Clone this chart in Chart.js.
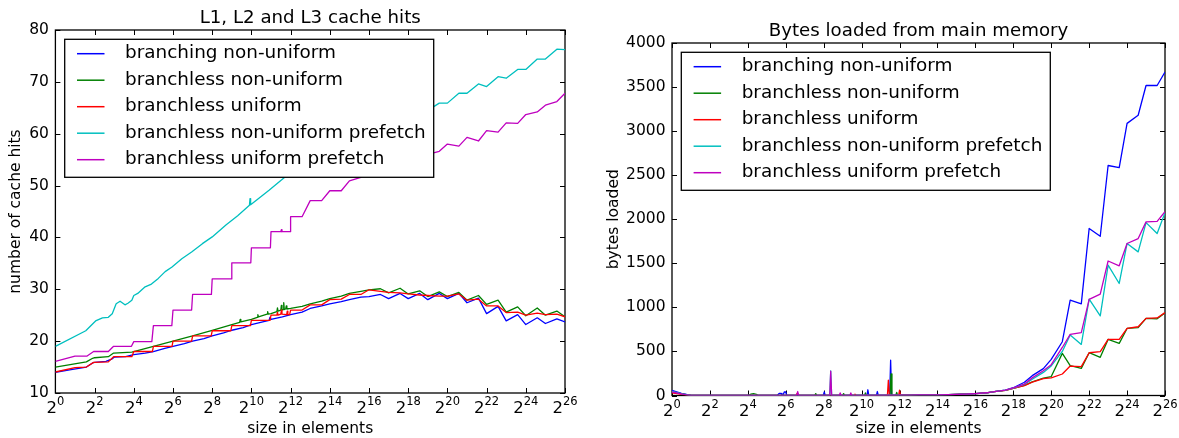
<!DOCTYPE html>
<html>
<head>
<meta charset="utf-8">
<script src="https://cdn.jsdelivr.net/npm/chart.js@4.4.1/dist/chart.umd.min.js"></script>
<style>
  html, body { margin: 0; padding: 0; background: #fff; }
  #wrap { position: relative; width: 1179px; height: 438px; overflow: hidden; }
  canvas { position: absolute; top: 0; }
  #hits { left: 0; }
  #bytes { left: 590px; }
</style>
</head>
<body>
<div id="wrap">
  <canvas id="hits" width="590" height="438"></canvas>
  <canvas id="bytes" width="589" height="438"></canvas>
</div>
<script>
// ---- data: x is log2(size in elements), y is the measured value ----
const seriesLabels = [
  'branching non-uniform',
  'branchless non-uniform',
  'branchless uniform',
  'branchless non-uniform prefetch',
  'branchless uniform prefetch'
];

// exponents shown on the x axis (labels are 2^n)
const exponentTicks = [0, 2, 4, 6, 8, 10, 12, 14, 16, 18, 20, 22, 24, 26];

// L1, L2 and L3 cache hits
const hitsBranchingNonUniform = [
  [0,14.0],[0.8,14.5],[1.58,15.0],[1.9,15.8],[2.0,15.9],[2.58,16.1],[2.9,16.6],[3.0,16.9],[3.58,17.0],
  [4,17.4],[4.58,17.7],[5,18.0],[5.58,18.6],[6,19.0],[6.58,19.5],[7,20.0],[7.58,20.5],[8,21.0],
  [8.58,21.6],[9,22.1],[9.58,22.6],[10,23.2],[10.58,23.7],[10.9,24.0],[10.95,24.6],[11.0,24.2],
  [11.58,24.7],[12,25.1],[12.585,25.6],[13,26.3],[13.585,26.8],[14,27.2],[14.585,27.6],[15,28.0],
  [15.585,28.5],[16,28.6],[16.585,29.0],[17,28.2],[17.585,29.2],[18,28.2],[18.585,29.2],[19,28.0],
  [19.585,29.2],[20,28.2],[20.585,29.2],[21,27.4],[21.585,28.3],[22,25.3],[22.585,26.7],[23,23.9],
  [23.585,25.1],[24,23.2],[24.585,24.5],[25,23.4],[25.585,24.3],[26,23.7]
];
const hitsBranchlessNonUniform = [
  [0,15.0],[1.58,16.0],[1.9,16.7],[2.0,16.8],[2.7,17.0],[2.97,17.7],[3.9,17.9],[5,19.0],[6,20.0],
  [7,21.0],[8,22.1],[9,23.2],[9.4,23.6],[9.43,24.2],[9.46,23.7],[10,24.2],[10.3,24.6],[10.33,25.1],
  [10.36,24.7],[10.8,25.2],[10.83,25.7],[10.86,25.2],[11,25.3],[11.3,25.7],[11.33,26.4],[11.36,25.8],
  [11.5,26.0],[11.53,26.9],[11.56,26.0],[11.62,26.1],[11.65,27.4],[11.68,26.1],[11.75,26.2],
  [11.78,26.8],[11.81,26.2],[12,26.3],[12.585,26.7],[13,27.2],[13.585,27.7],[14,28.2],[14.585,28.7],
  [15,29.2],[15.585,29.6],[16,29.9],[16.585,30.1],[17,29.3],[17.585,30.2],[18,29.1],[18.585,29.7],
  [19,28.6],[19.585,29.5],[20,28.6],[20.585,29.4],[21,27.9],[21.585,28.8],[22,27.1],[22.585,27.9],
  [23,25.6],[23.585,26.6],[24,24.9],[24.585,26.4],[25,25.0],[25.585,25.8],[26,24.7]
];
const hitsBranchlessUniform = [
  [0,14.05],[1.0,14.9],[1.58,15.0],[1.95,15.9],[2.7,16.0],[2.97,17.0],[3.9,17.0],[4.0,18.0],
  [4.95,18.0],[5.0,19.0],[5.95,19.0],[6.0,20.0],[6.95,20.0],[7.0,21.0],[7.95,21.0],[8.0,22.0],
  [8.95,22.0],[9.0,23.0],[9.95,23.0],[10.0,24.0],[10.95,24.0],[11.0,25.0],[11.3,25.0],[11.33,25.6],
  [11.36,25.0],[11.5,25.2],[11.53,26.0],[11.56,25.2],[11.8,25.1],[11.83,25.8],[11.86,25.1],
  [11.95,25.1],[12.0,26.0],[12.585,26.0],[13,27.0],[13.585,27.0],[14,28.0],[14.585,28.1],[15,29.0],
  [15.585,29.0],[16,29.9],[16.585,29.6],[17,29.4],[17.585,29.3],[18,29.1],[18.585,28.9],[19,28.8],
  [19.585,28.7],[20,28.7],[20.585,29.1],[21,27.9],[21.585,28.1],[22,26.8],[22.585,26.8],[23,25.5],
  [23.585,25.6],[24,25.0],[24.585,25.4],[25,25.1],[25.585,25.2],[26,24.7]
];
const hitsBranchlessNonUniformPrefetch = [
  [0,19.0],[1.55,22.0],[2.05,23.9],[2.4,24.5],[2.7,24.6],[2.9,25.3],[3.1,27.2],[3.3,27.7],[3.55,27.0],
  [3.7,27.3],[3.9,27.9],[4.0,28.8],[4.2,29.2],[4.55,30.4],[4.9,31.0],[5.25,32.1],[5.6,33.4],
  [5.95,34.3],[6.45,35.9],[6.95,37.2],[7.5,38.8],[8.0,40.1],[8.7,42.4],[9.3,44.2],[9.9,46.2],
  [9.93,47.5],[9.96,46.3],[10.4,47.6],[10.9,49.1],[11.5,51.0],[12,52.5],[12.585,53.5],[13,54.5],
  [13.585,55.5],[14,56.5],[14.585,57.5],[15,58.5],[15.585,59.3],[16,60.2],[16.585,61.0],[17,61.8],
  [17.585,62.4],[18,63.0],[18.585,63.8],[19,64.5],[19.585,65.9],[20,65.9],[20.585,67.8],[21,67.8],
  [21.585,69.6],[22,69.1],[22.585,71.0],[23,70.7],[23.585,72.4],[24,72.4],[24.585,74.4],[25,74.4],
  [25.585,76.3],[26,76.2]
];
const hitsBranchlessUniformPrefetch = [
  [0,16.1],[1.0,17.1],[1.6,17.1],[1.95,18.0],[2.7,18.0],[2.97,19.0],[3.88,19.0],[4.0,19.9],
  [4.92,19.9],[5.0,23.0],[5.94,23.0],[6.0,26.0],[6.95,26.0],[7.0,29.0],[7.96,29.0],[8.0,32.0],
  [8.97,32.0],[9.0,35.1],[9.97,35.1],[10.0,38.0],[10.97,38.0],[11.0,41.1],[11.5,41.1],[11.53,41.5],
  [11.56,41.1],[11.97,41.1],[12.0,44.0],[12.585,44.0],[13,47.1],[13.585,47.1],[14,49.0],
  [14.585,49.0],[15,50.9],[15.585,51.6],[16,52.4],[16.585,53.0],[17,53.8],[17.585,54.3],[18,55.0],
  [18.585,55.5],[19,56.0],[19.585,56.6],[20,58.0],[20.585,57.6],[21,59.3],[21.585,58.6],[22,60.6],
  [22.585,60.3],[23,62.1],[23.585,62.0],[24,63.7],[24.585,64.2],[25,65.5],[25.585,66.2],[26,67.8]
];

// Bytes loaded from main memory
const bytesBranchingNonUniform = [
  [0,57],[0.5,25],[1,0],[5.55,0],[5.65,24],[5.75,24],[5.8,0],[5.85,0],[5.92,40],[6.0,40],[6.05,0],
  [7.98,0],[8.03,40],[8.08,0],[10.28,0],[10.33,65],[10.38,0],[10.78,0],[10.83,45],[10.88,0],
  [11.48,0],[11.53,400],[11.58,0],[12,5],[12.585,5],[13,6],[13.585,7],[14,8],[14.585,10],[15,13],
  [15.585,17],[16,22],[16.585,31],[17,45],[17.585,62],[18,88],[18.585,150],[19,225],[19.585,305],
  [20,410],[20.585,610],[21,1082],[21.585,1040],[22,1895],[22.585,1807],[23,2610],[23.585,2585],
  [24,3088],[24.585,3180],[25,3518],[25.585,3518],[26,3670]
];
const bytesBranchlessNonUniform = [
  [0,40],[0.6,15],[1,0],[4.05,0],[4.15,15],[4.3,20],[4.45,12],[4.55,0],[6.58,0],[6.63,20],[6.68,0],
  [7.53,0],[7.58,22],[7.63,0],[9.0,0],[9.05,22],[9.1,0],[10.15,0],[10.2,30],[10.25,0],[11.5,0],
  [11.55,245],[11.6,0],[11.8,0],[11.85,35],[11.9,0],[12,5],[12.585,5],[13,6],[13.585,7],[14,8],
  [14.585,10],[15,13],[15.585,17],[16,22],[16.585,30],[17,43],[17.585,58],[18,80],[18.585,115],
  [19,155],[19.585,196],[20,215],[20.585,478],[21,338],[21.585,308],[22,486],[22.585,433],[23,637],
  [23.585,591],[24,761],[24.585,770],[25,875],[25.585,870],[26,938]
];
const bytesBranchlessUniform = [
  [0,30],[0.7,8],[1,0],[6.55,0],[6.6,25],[6.65,0],[9.6,0],[9.65,15],[9.7,0],[11.36,0],[11.41,173],
  [11.46,0],[11.95,0],[12.0,60],[12.05,5],[12.585,5],[13,6],[13.585,7],[14,8],[14.585,10],[15,13],
  [15.585,17],[16,22],[16.585,30],[17,43],[17.585,58],[18,80],[18.585,112],[19,152],[19.585,192],
  [20,200],[20.585,244],[21,334],[21.585,327],[22,485],[22.585,497],[23,637],[23.585,637],[24,761],
  [24.585,780],[25,875],[25.585,880],[26,940]
];
const bytesBranchlessNonUniformPrefetch = [
  [0,48],[0.6,15],[1,0],[8.32,0],[8.37,278],[8.42,0],[12,5],[12.585,5],[13,6],[13.585,7],[14,8],
  [14.585,10],[15,13],[15.585,17],[16,22],[16.585,30],[17,44],[17.585,60],[18,84],[18.585,125],
  [19,185],[19.585,262],[20,335],[20.585,500],[21,686],[21.585,580],[22,1093],[22.585,904],
  [23,1480],[23.585,1271],[24,1725],[24.585,1630],[25,1962],[25.585,1838],[26,2075]
];
const bytesBranchlessUniformPrefetch = [
  [0,40],[0.7,10],[1,0],[6.58,0],[6.63,45],[6.68,0],[8.32,0],[8.37,275],[8.42,0],[8.82,0],[8.87,30],
  [8.92,0],[9.38,0],[9.43,30],[9.48,0],[12,5],[12.585,5],[13,6],[13.585,7],[14,8],[14.585,10],
  [15,13],[15.585,17],[16,22],[16.585,31],[17,45],[17.585,61],[18,86],[18.585,130],[19,200],
  [19.585,280],[20,350],[20.585,545],[21,694],[21.585,714],[22,1090],[22.585,1151],[23,1526],
  [23.585,1472],[24,1725],[24.585,1781],[25,1970],[25.585,1975],[26,2085]
];

// ---- styling ----
const FONT = '"DejaVu Sans", "Liberation Sans", sans-serif';
const seriesColors = ['#0000ff', '#008000', '#ff0000', '#00bfbf', '#bf00bf'];
const LINE_W = 1.3;
const TICK_LEN = 5;

function makeDatasets(seriesList) {
  return seriesList.map((pts, i) => ({
    label: seriesLabels[i],
    data: pts.map(p => ({ x: p[0], y: p[1] })),
    borderColor: seriesColors[i],
    backgroundColor: seriesColors[i],
    borderWidth: LINE_W,
    borderJoinStyle: 'round',
    pointRadius: 0,
    fill: false,
    tension: 0,
    order: seriesList.length - i   // later series are painted on top
  }));
}

// frame, inward tick marks, 2^n labels and the boxed legend
const axesDecor = {
  id: 'axesDecor',
  beforeDatasetsDraw(chart) {
    const { ctx, chartArea: a, scales } = chart;
    ctx.save();
    ctx.strokeStyle = '#000';
    ctx.lineWidth = 1;
    ctx.beginPath();
    for (const t of scales.y.ticks) {
      const y = Math.round(scales.y.getPixelForValue(t.value)) + 0.5;
      ctx.moveTo(a.left, y); ctx.lineTo(a.left + TICK_LEN, y);
      ctx.moveTo(a.right, y); ctx.lineTo(a.right - TICK_LEN, y);
    }
    for (const e of exponentTicks) {
      const x = Math.round(scales.x.getPixelForValue(e)) + 0.5;
      ctx.moveTo(x, a.bottom); ctx.lineTo(x, a.bottom - TICK_LEN);
      ctx.moveTo(x, a.top); ctx.lineTo(x, a.top + TICK_LEN);
    }
    ctx.stroke();
    ctx.lineWidth = 1.3;
    ctx.strokeRect(a.left, a.top, a.right - a.left, a.bottom - a.top);
    ctx.restore();
  },
  afterDatasetsDraw(chart) {
    const { ctx, chartArea: a } = chart;
    const bx = a.left + 9.3, by = a.top + 9.3, bw = 369, bh = 138;
    ctx.save();
    ctx.fillStyle = '#fff';
    ctx.fillRect(bx, by, bw, bh);
    ctx.strokeStyle = '#000';
    ctx.lineWidth = 1.3;
    ctx.strokeRect(bx, by, bw, bh);
    ctx.font = '18.4px ' + FONT;
    ctx.textBaseline = 'middle';
    ctx.textAlign = 'left';
    chart.data.datasets.forEach((ds, i) => {
      const cy = by + 14.4 + i * 26.5;
      ctx.strokeStyle = ds.borderColor;
      ctx.lineWidth = 1.5;
      ctx.beginPath();
      ctx.moveTo(bx + 12.3, cy);
      ctx.lineTo(bx + 39.8, cy);
      ctx.stroke();
      ctx.fillStyle = '#000';
      ctx.fillText(ds.label, bx + 60.4, cy);
    });
    ctx.restore();
  },
  afterDraw(chart) {
    const { ctx, chartArea: a, scales } = chart;
    const baseFont = '16.5px ' + FONT, supFont = '11.5px ' + FONT;
    ctx.save();
    ctx.fillStyle = '#000';
    ctx.textAlign = 'left';
    ctx.textBaseline = 'alphabetic';
    for (const e of exponentTicks) {
      const px = scales.x.getPixelForValue(e);
      const sup = String(e);
      ctx.font = baseFont; const wb = ctx.measureText('2').width;
      ctx.font = supFont; const ws = ctx.measureText(sup).width;
      const start = px - (wb + ws) / 2;
      ctx.font = baseFont; ctx.fillText('2', start, a.bottom + 20);
      ctx.font = supFont; ctx.fillText(sup, start + wb, a.bottom + 12);
    }
    ctx.restore();
  }
};

function makeChart(canvasId, cfg) {
  return new Chart(document.getElementById(canvasId), {
    type: 'line',
    data: { datasets: makeDatasets(cfg.series) },
    plugins: [axesDecor],
    options: {
      responsive: false,
      maintainAspectRatio: false,
      animation: false,
      devicePixelRatio: 1,
      layout: { padding: { left: 0, right: cfg.padRight, top: 0, bottom: 0 } },
      plugins: {
        legend: { display: false },
        tooltip: { enabled: false },
        title: {
          display: true,
          text: cfg.title,
          fullSize: false,
          color: '#000',
          font: { family: FONT, size: 18.2, weight: 'normal' },
          padding: cfg.titlePad
        }
      },
      scales: {
        x: {
          type: 'linear',
          min: 0,
          max: 26,
          afterBuildTicks: s => { s.ticks = exponentTicks.map(v => ({ value: v })); },
          afterFit: s => { s.height = cfg.xHeight; },
          ticks: { display: false },
          grid: { display: false, drawTicks: false },
          border: { display: false },
          title: {
            display: true,
            text: 'size in elements',
            color: '#000',
            font: { family: FONT, size: 15.5 },
            padding: { top: 0, bottom: 0 }
          }
        },
        y: {
          type: 'linear',
          min: cfg.yMin,
          max: cfg.yMax,
          afterFit: s => { s.width = cfg.yWidth; },
          ticks: {
            stepSize: cfg.yStep,
            color: '#000',
            padding: 6.5,
            font: { family: FONT, size: 15.5 },
            callback: v => String(v)
          },
          grid: { display: false, drawTicks: false },
          border: { display: false },
          title: {
            display: true,
            text: cfg.yTitle,
            color: '#000',
            font: { family: FONT, size: 15.5 },
            padding: { top: cfg.yTitlePad, bottom: 0 }
          }
        }
      }
    }
  });
}

makeChart('hits', {
  series: [hitsBranchingNonUniform, hitsBranchlessNonUniform, hitsBranchlessUniform,
           hitsBranchlessNonUniformPrefetch, hitsBranchlessUniformPrefetch],
  title: 'L1, L2 and L3 cache hits',
  titlePad: { top: 7.1, bottom: 1.06 },
  yTitle: 'number of cache hits',
  yTitlePad: 6.7,
  yMin: 10, yMax: 80, yStep: 10,
  yWidth: 55.4, xHeight: 45, padRight: 25
});

makeChart('bytes', {
  series: [bytesBranchingNonUniform, bytesBranchlessNonUniform, bytesBranchlessUniform,
           bytesBranchlessNonUniformPrefetch, bytesBranchlessUniformPrefetch],
  title: 'Bytes loaded from main memory',
  titlePad: { top: 20.8, bottom: 0.36 },
  yTitle: 'bytes loaded',
  yTitlePad: 14.2,
  yMin: 0, yMax: 4000, yStep: 500,
  yWidth: 82, xHeight: 42.5, padRight: 14
});
</script>
</body>
</html>
